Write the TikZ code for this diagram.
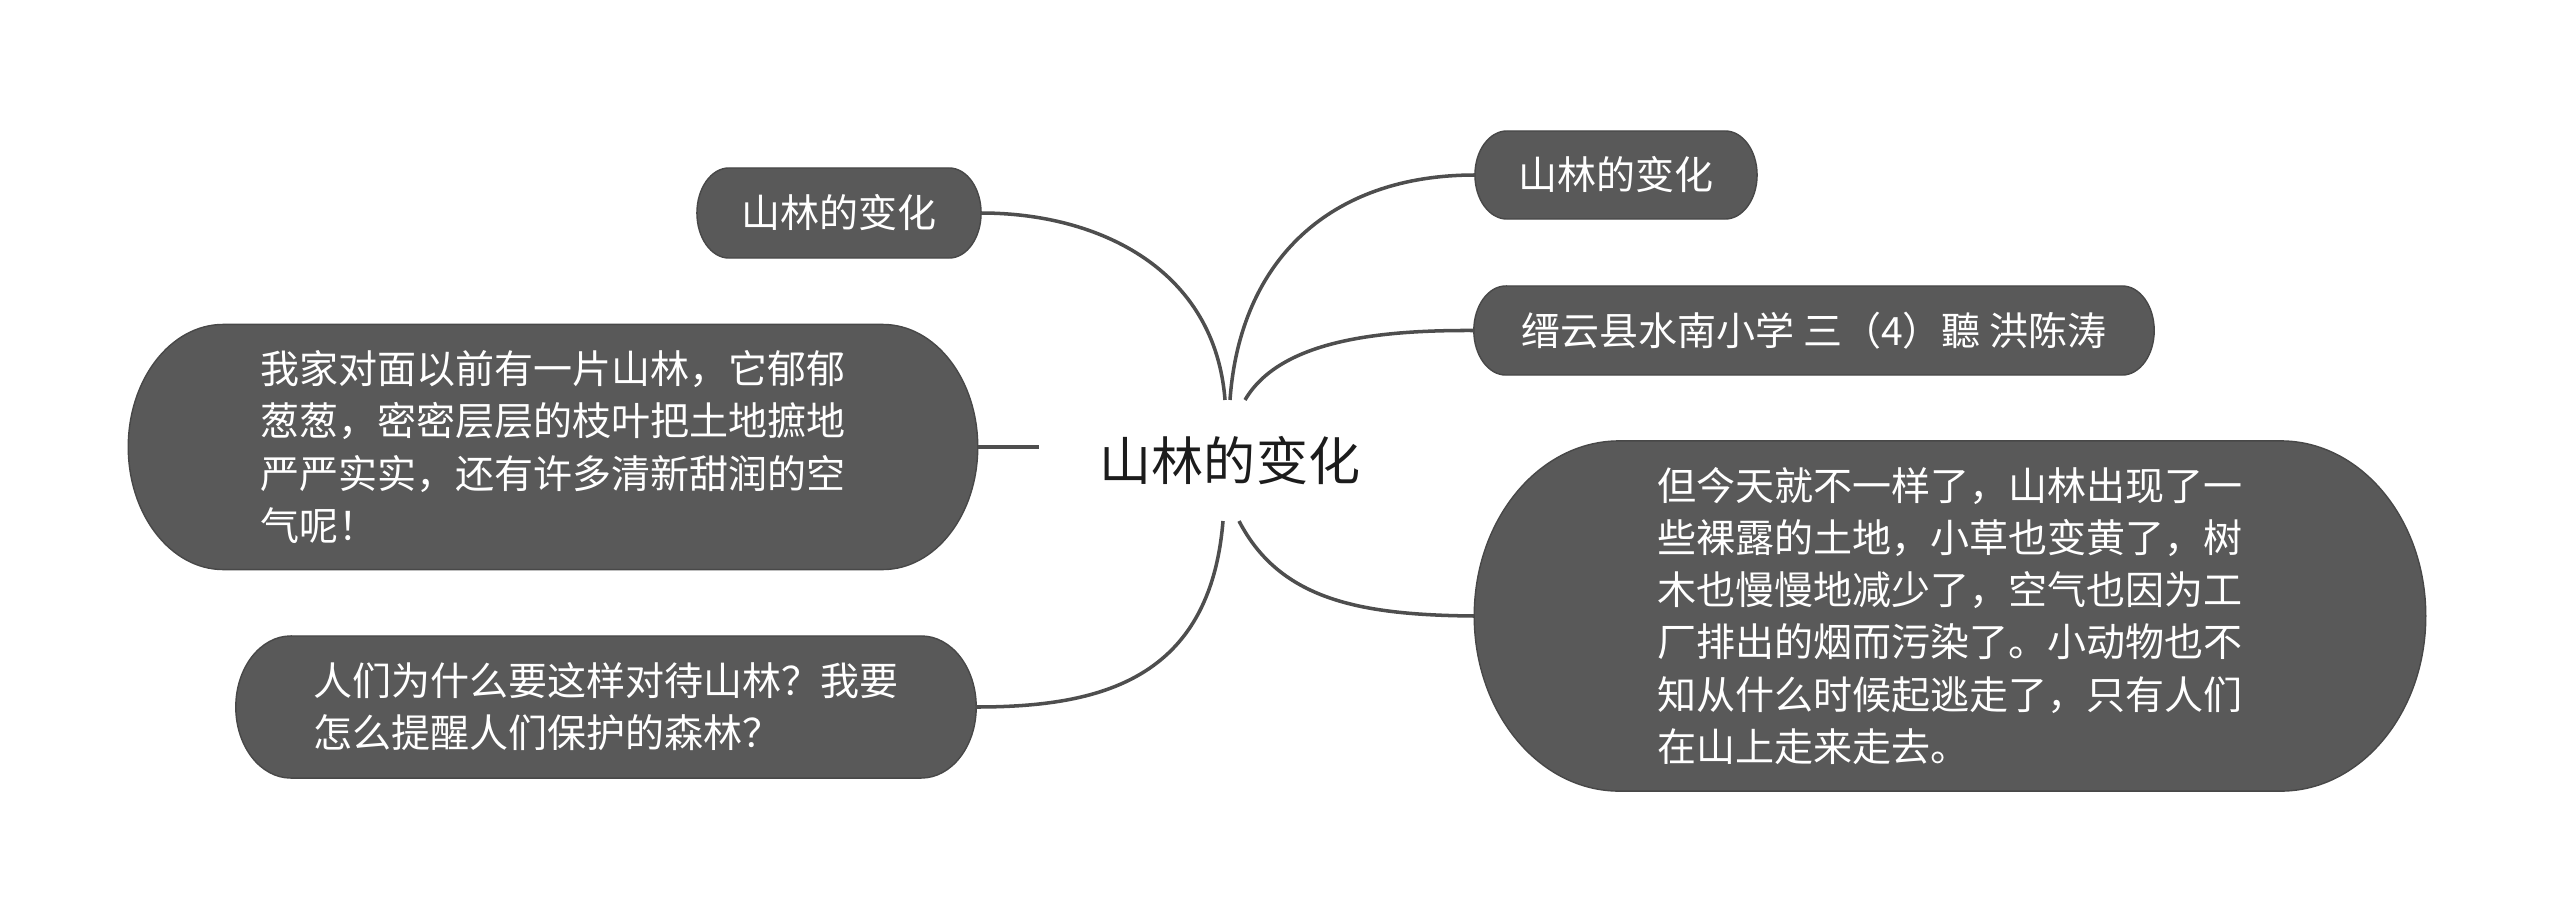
\documentclass[tikz,border=0pt]{standalone}
\usepackage{fontspec}
\setmainfont{Noto Sans CJK SC}
\usetikzlibrary{backgrounds}
\definecolor{boxgray}{RGB}{89,89,89}
\definecolor{boxedge}{RGB}{72,72,72}
\definecolor{linegray}{RGB}{78,78,78}
\definecolor{rootink}{RGB}{28,28,28}
\newcommand{\blobshape}[3]{%
  \fill[boxgray, draw=boxedge, line width=0.4pt]
    ([xshift=#2]#1.north west) -- ([xshift=-#2]#1.north east)
    arc[start angle=90, end angle=-90, x radius=#2, y radius=#3]
    -- ([xshift=#2]#1.south west)
    arc[start angle=270, end angle=90, x radius=#2, y radius=#3] -- cycle;
}
\tikzset{
  topic/.style={inner sep=0pt, outer sep=0pt, text=white, align=left,
    font=\fontsize{11.1pt}{14.8pt}\selectfont},
  roottopic/.style={inner sep=0pt, outer sep=0pt, text=rootink,
    font=\fontsize{14.8pt}{18pt}\selectfont},
  link/.style={draw=linegray, line width=1pt},
}
\begin{document}
\begin{tikzpicture}[x=0.01cm, y=-0.01cm]
\useasboundingbox (0,0) rectangle (2560,921);

\node[roottopic, minimum width=3.82cm, minimum height=1.21cm] (root) at (1230,460.5) {山林的变化};

\node[topic, minimum width=2.84cm, minimum height=0.90cm] (tl) at (839,213) {山林的变化};
\node[topic, minimum width=2.82cm, minimum height=0.88cm] (rt) at (1616,175) {山林的变化};
\node[topic, minimum width=6.80cm, minimum height=0.89cm] (jy) at (1814,330.5) {缙云县水南小学 三（4）聽 洪陈涛};
\node[topic, minimum width=8.49cm, minimum height=2.45cm] (bl) at (553,447)
  {我家对面以前有一片山林，它郁郁\\葱葱，密密层层的枝叶把土地摭地\\严严实实，还有许多清新甜润的空\\气呢！};
\node[topic, minimum width=9.51cm, minimum height=3.50cm] (br) at (1950,616)
  {但今天就不一样了，山林出现了一\\些裸露的土地，小草也变黄了，树\\木也慢慢地减少了，空气也因为工\\厂排出的烟而污染了。小动物也不\\知从什么时候起逃走了，只有人们\\在山上走来走去。};
\node[topic, minimum width=7.40cm, minimum height=1.42cm] (bb) at (606,707)
  {人们为什么要这样对待山林？我要\\怎么提醒人们保护的森林？};

\begin{scope}[on background layer]
  \fill[white] (0,0) rectangle (2560,921);
  \blobshape{tl}{0.32cm}{0.45cm}
  \blobshape{rt}{0.32cm}{0.44cm}
  \blobshape{jy}{0.32cm}{0.445cm}
  \blobshape{bl}{0.95cm}{1.225cm}
  \blobshape{br}{1.45cm}{1.75cm}
  \blobshape{bb}{0.55cm}{0.71cm}
\end{scope}

\draw[link] ([xshift=-0.05cm]root.north) .. controls (1215,270) and (1100,213) .. (tl.east);
\draw[link] (root.north) .. controls (1240,260) and (1330,175) .. (rt.west);
\draw[link] ([xshift=0.15cm]root.north) .. controls (1280,340) and (1380,330) .. (jy.west);
\draw[link] (root.west |- bl.east) -- (bl.east);
\draw[link] ([xshift=-0.07cm]root.south) .. controls (1210,680) and (1100,707) .. (bb.east);
\draw[link] ([xshift=0.09cm]root.south) .. controls (1280,600) and (1360,615) .. (br.west);
\end{tikzpicture}
\end{document}
